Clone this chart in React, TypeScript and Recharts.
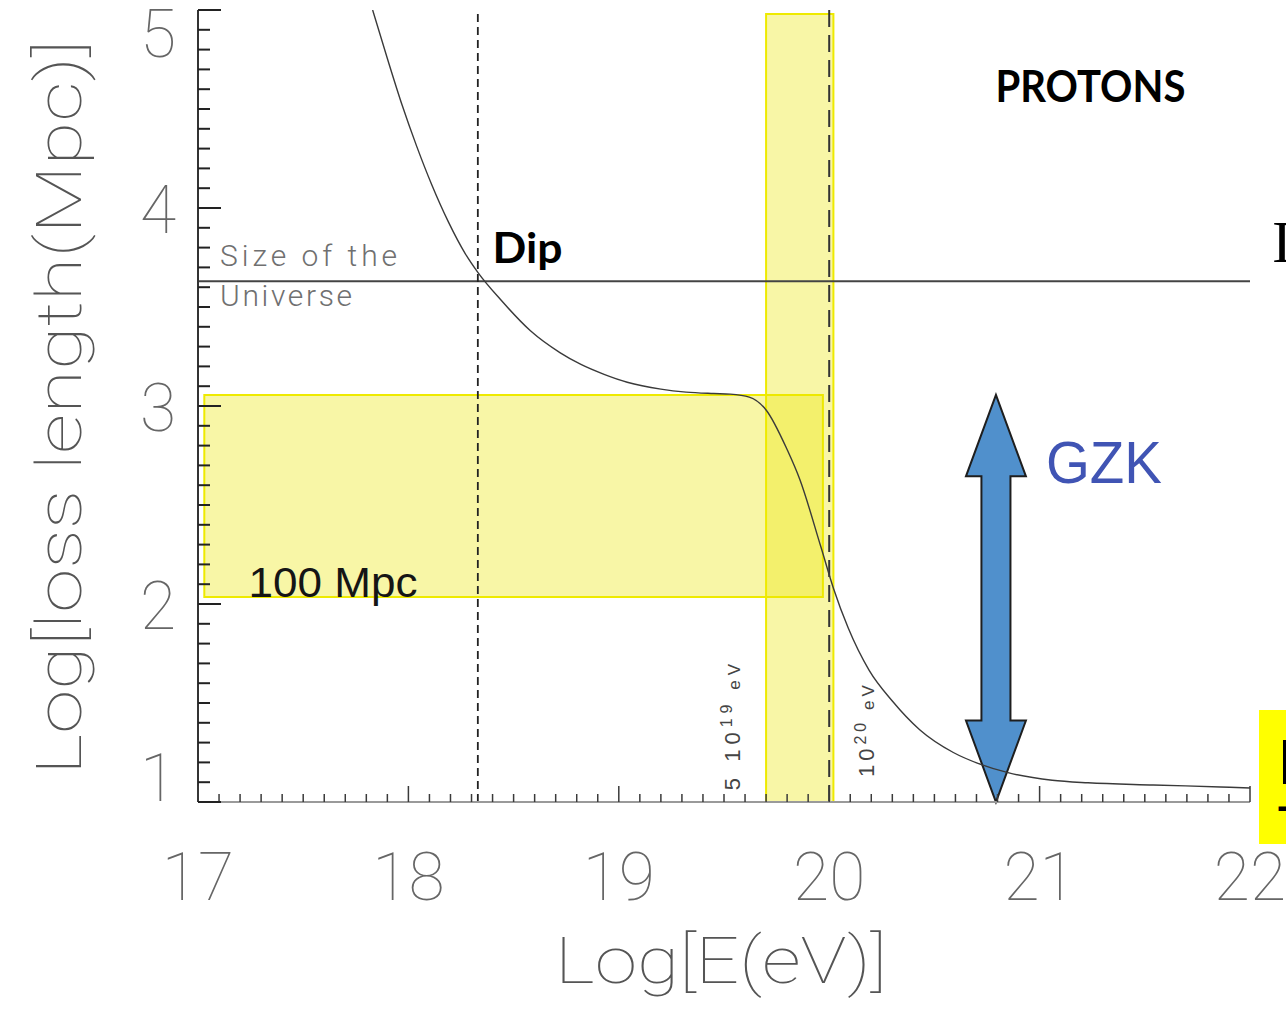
import { LineChart, Line, XAxis, YAxis, ReferenceLine, ReferenceArea, ReferenceDot } from 'recharts';

// proton energy-loss length
const energy = [
  17.83, 17.9, 17.97, 18.04, 18.11, 18.19, 18.27, 18.33, 18.44, 18.58, 18.72,
  18.82, 18.93, 19.04, 19.2, 19.32, 19.45, 19.53, 19.62, 19.7, 19.8, 19.86, 19.96, 20.02, 20.09,
  20.19, 20.3, 20.43, 20.59, 20.72, 20.85, 21.06, 21.23, 21.54, 21.86, 22.0,
];
const lossLength = [
  5.0, 4.755, 4.52, 4.31, 4.12, 3.93, 3.77, 3.675, 3.535, 3.38, 3.27,
  3.21, 3.16, 3.12, 3.085, 3.07, 3.063, 3.06, 3.045, 2.98, 2.78, 2.63, 2.29, 2.08, 1.88,
  1.665, 1.51, 1.365, 1.25, 1.19, 1.148, 1.11, 1.097, 1.086, 1.076, 1.071,
];

const xMajor = [17, 18, 19, 20, 21, 22];
const yMajor = [1, 2, 3, 4, 5];

const dipEnergy = 18.33;
const cutEnergy = 20.0;
const universeSize = 3.63;

const mpcBoxX = [17.03, 19.97];
const mpcBoxY = [2.035, 3.055];
const cutBandX = [19.7, 20.02];
const cutBandY = [1, 4.98];
const gzkArrowX = [20.65, 20.935];
const gzkArrowY = [1, 3.056];

const protonsAt = [20.79, 4.535];
const dipAt = [18.4, 3.72];
const mpcAt = [17.24, 2.035];
const gzkAt = [21.03, 2.61];
const sizeAt = [17.105, 3.707];
const universeAt = [17.105, 3.505];
const e19At = [19.576, 1.06];
const e20At = [20.213, 1.126];

const data = energy.map((e, i) => ({ e, l: lossLength[i] }));

// IDL style: ten minor divisions per unit
const withMinor = (majors: number[]) => {
  const out: number[] = [];
  majors.forEach((m, i) => {
    if (i === majors.length - 1) {
      out.push(m);
      return;
    }
    for (let k = 0; k < 10; k++) out.push(+(m + k / 10).toFixed(1));
  });
  return out;
};
const xTicks = withMinor(xMajor);
const yTicks = withMinor(yMajor);

const isMajor = (v: number) => Math.abs(v - Math.round(v)) < 1e-6;
const TICK = '#3a3a3a';
const THIN = 'Roboto, "Open Sans", "DejaVu Sans", sans-serif';
const BOLD = 'Lato, "Open Sans", "Noto Sans", sans-serif';
const ARIAL = '"Liberation Sans", Arial, sans-serif';
const LABEL_GRAY = '#666';

function BottomTick(props: any) {
  const { x, y, payload } = props;
  const major = isMajor(payload.value);
  return (
    <g>
      <line x1={x} x2={x} y1={y} y2={y - (major ? 16 : 8)} stroke={TICK} strokeWidth={1.5} />
      {major && (
        <text x={x} y={y + 98} textAnchor="middle" fontFamily={THIN} fontWeight={100} fontSize={66} fill={LABEL_GRAY}>
          {Math.round(payload.value)}
        </text>
      )}
    </g>
  );
}

function TopTick(props: any) {
  const { x, y, payload } = props;
  const major = isMajor(payload.value);
  return <line x1={x} x2={x} y1={y} y2={y + (major ? 16 : 7)} stroke={TICK} strokeWidth={1.5} />;
}

function LeftTick(props: any) {
  const { x, y, payload } = props;
  const v = payload.value;
  const major = isMajor(v);
  const dy = v === 5 ? 47 : v === 1 ? -1 : 25;
  return (
    <g>
      <line x1={x} x2={x + (major ? 23 : 12)} y1={y} y2={y} stroke="#222" strokeWidth={2} />
      {major && (
        <text x={x - 40} y={y + dy} textAnchor="middle" fontFamily={THIN} fontWeight={100} fontSize={66} fill={LABEL_GRAY}>
          {Math.round(v)}
        </text>
      )}
    </g>
  );
}

function RightTick(props: any) {
  const { x, y, payload } = props;
  const major = isMajor(payload.value);
  return <line x1={x} x2={x - (major ? 21 : 9)} y1={y} y2={y} stroke={TICK} strokeWidth={1.5} />;
}

function XTitle(props: any) {
  const vb = props.viewBox;
  return (
    <text
      x={vb.x + vb.width / 2 - 3}
      y={vb.y + 181}
      textAnchor="middle"
      textLength={332}
      lengthAdjust="spacingAndGlyphs"
      fontFamily={THIN}
      fontWeight={100}
      fontSize={64}
      fill="#555"
    >
      Log[E(eV)]
    </text>
  );
}

function YTitle(props: any) {
  const vb = props.viewBox;
  const cx = vb.x + 3;
  const cy = vb.y + vb.height / 2 + 1.5;
  return (
    <text
      x={cx}
      y={cy}
      transform={`rotate(-90 ${cx} ${cy})`}
      textAnchor="middle"
      textLength={735}
      lengthAdjust="spacingAndGlyphs"
      fontFamily={THIN}
      fontWeight={100}
      fontSize={63}
      fill="#555"
    >
      Log[loss length(Mpc)]
    </text>
  );
}

function DoubleArrow(props: any) {
  const { x, y, width, height } = props;
  const cx = x + width / 2;
  const head = height * 0.2;
  const half = width * 0.242;
  const pts = [
    [cx, y],
    [x + width, y + head],
    [cx + half, y + head],
    [cx + half, y + height - head],
    [x + width, y + height - head],
    [cx, y + height],
    [x, y + height - head],
    [cx - half, y + height - head],
    [cx - half, y + head],
    [x, y + head],
  ];
  return (
    <polygon
      points={pts.map((p) => p.join(',')).join(' ')}
      fill="#5090cc"
      stroke="#1e1e1e"
      strokeWidth={2}
      strokeLinejoin="miter"
    />
  );
}

const note = (text: string, style: any) => (p: any) => (
  <text x={p.cx} y={p.cy} {...style}>
    {text}
  </text>
);

const energyNote = (mant: string, exp: string, spacing: number) => (p: any) => (
  <text
    x={p.cx}
    y={p.cy}
    transform={`rotate(-90 ${p.cx} ${p.cy})`}
    fontFamily={ARIAL}
    fontSize={22}
    letterSpacing={spacing}
    fill="#444"
  >
    {mant}
    <tspan dy={-8} fontSize={16}>
      {exp}
    </tspan>
    <tspan dy={8} fontSize={17}>
      {' eV'}
    </tspan>
  </text>
);

export default function App() {
  return (
    <div style={{ position: 'absolute', left: 0, top: 0, width: 1286, height: 1009, background: '#fff', overflow: 'hidden' }}>
      <LineChart width={1286} height={1009} data={data} margin={{ top: 10, right: 36, bottom: 0, left: 78 }}>
        <XAxis
          type="number"
          dataKey="e"
          domain={[17, 22]}
          allowDataOverflow
          ticks={xTicks}
          interval={0}
          height={207}
          tickSize={0}
          tickMargin={0}
          tickLine={false}
          axisLine={{ stroke: '#9a9a9a', strokeWidth: 2 }}
          tick={BottomTick}
          label={{ content: (p: any) => <XTitle {...p} /> }}
        />
        <XAxis
          xAxisId="top"
          orientation="top"
          type="number"
          domain={[17, 22]}
          allowDataOverflow
          ticks={xTicks}
          interval={0}
          height={0}
          tickSize={0}
          tickMargin={0}
          tickLine={false}
          axisLine={{ stroke: '#444', strokeWidth: 2 }}
          tick={TopTick}
        />
        <YAxis
          type="number"
          domain={[1, 5]}
          allowDataOverflow
          ticks={yTicks}
          interval={0}
          width={120}
          tickSize={0}
          tickMargin={0}
          tickLine={false}
          axisLine={{ stroke: '#333', strokeWidth: 2 }}
          tick={LeftTick}
          label={{ content: (p: any) => <YTitle {...p} /> }}
        />
        <YAxis
          yAxisId="right"
          orientation="right"
          type="number"
          domain={[1, 5]}
          allowDataOverflow
          ticks={yTicks}
          interval={0}
          width={0}
          tickSize={0}
          tickMargin={0}
          tickLine={false}
          axisLine={{ stroke: '#a0a0a0', strokeWidth: 2 }}
          tick={RightTick}
        />

        <ReferenceLine y={universeSize} stroke="#444" strokeWidth={2} />
        <ReferenceLine x={dipEnergy} stroke="#222" strokeWidth={1.8} strokeDasharray="8 5" />
        <ReferenceLine x={cutEnergy} stroke="#333" strokeWidth={2} strokeDasharray="17 8" />

        <Line
          dataKey="l"
          type="monotone"
          stroke="#3a3a3a"
          strokeWidth={1.4}
          dot={false}
          activeDot={false}
          isAnimationActive={false}
        />

        <ReferenceArea
          x1={mpcBoxX[0]}
          x2={mpcBoxX[1]}
          y1={mpcBoxY[0]}
          y2={mpcBoxY[1]}
          fill="rgb(235,229,0)"
          fillOpacity={0.35}
          stroke="#eeea00"
          strokeWidth={2}
        />
        <ReferenceArea
          x1={cutBandX[0]}
          x2={cutBandX[1]}
          y1={cutBandY[0]}
          y2={cutBandY[1]}
          fill="rgb(235,229,0)"
          fillOpacity={0.35}
          stroke="#eeea00"
          strokeWidth={2}
        />
        <ReferenceArea
          x1={gzkArrowX[0]}
          x2={gzkArrowX[1]}
          y1={gzkArrowY[0]}
          y2={gzkArrowY[1]}
          shape={DoubleArrow}
        />

        <ReferenceDot x={protonsAt[0]} y={protonsAt[1]} r={1}
          shape={note('PROTONS', { fontFamily: BOLD, fontWeight: 700, fontSize: 44, fill: '#000', textLength: 190, lengthAdjust: 'spacingAndGlyphs' })} />
        <ReferenceDot x={dipAt[0]} y={dipAt[1]} r={1}
          shape={note('Dip', { fontFamily: BOLD, fontWeight: 700, fontSize: 42, fill: '#000', textLength: 70, lengthAdjust: 'spacingAndGlyphs' })} />
        <ReferenceDot x={mpcAt[0]} y={mpcAt[1]} r={1}
          shape={note('100 Mpc', { fontFamily: ARIAL, fontSize: 43, fill: '#151515', textLength: 169, lengthAdjust: 'spacingAndGlyphs' })} />
        <ReferenceDot x={gzkAt[0]} y={gzkAt[1]} r={1}
          shape={note('GZK', { fontFamily: ARIAL, fontSize: 59, fill: '#4054b4', textLength: 116, lengthAdjust: 'spacingAndGlyphs' })} />
        <ReferenceDot x={sizeAt[0]} y={sizeAt[1]} r={1}
          shape={note('Size of the', { fontFamily: THIN, fontWeight: 300, fontSize: 30, fill: '#707070', textLength: 177, lengthAdjust: 'spacing' })} />
        <ReferenceDot x={universeAt[0]} y={universeAt[1]} r={1}
          shape={note('Universe', { fontFamily: THIN, fontWeight: 300, fontSize: 30, fill: '#707070', textLength: 132, lengthAdjust: 'spacing' })} />
        <ReferenceDot x={e19At[0]} y={e19At[1]} r={1} shape={energyNote('5 10', '19', 5)} />
        <ReferenceDot x={e20At[0]} y={e20At[1]} r={1} shape={energyNote('10', '20', 4)} />
      </LineChart>

      {/* slide bits cut off at the right edge */}
      <svg width={1286} height={1009} style={{ position: 'absolute', left: 0, top: 0, pointerEvents: 'none' }}>
        <text x={1272} y={262} fontFamily='"Liberation Serif", serif' fontSize={60} fill="#000">I</text>
        <rect x={1259} y={710} width={30} height={134} fill="#ffff00" />
        <text x={1278} y={784} fontFamily={BOLD} fontWeight={700} fontSize={62} fill="#000">I</text>
        <text x={1276} y={822} fontFamily={BOLD} fontWeight={700} fontSize={44} fill="#000">-</text>
      </svg>
    </div>
  );
}
